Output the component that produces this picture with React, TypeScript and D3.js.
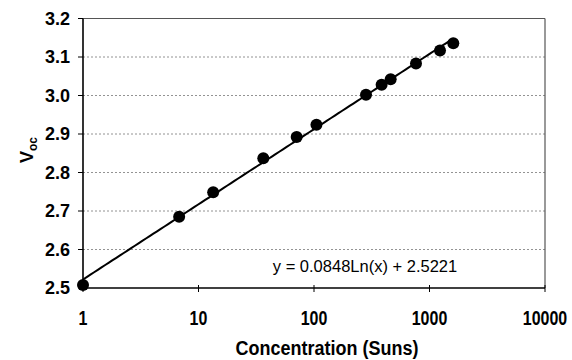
import React from "react";
import * as d3 from "d3";

// Concentration (suns) and open-circuit voltage
const concentration = [1, 6.8, 13.4, 36.4, 70.8, 105, 282, 385, 461, 764, 1233, 1607];
const voc = [2.508, 2.685, 2.749, 2.837, 2.892, 2.924, 3.002, 3.028, 3.042, 3.083, 3.117, 3.136];

const xTicks = [1, 10, 100, 1000, 10000];
const yTicks = [2.5, 2.6, 2.7, 2.8, 2.9, 3.0, 3.1, 3.2];

// Logarithmic fit coefficients
const fitSlope = 0.0848;
const fitIntercept = 2.5221;

const W = 572;
const H = 360;
const left = 83;
const right = 545;
const top = 18.5;
const bottom = 288;

export default function App() {
  const x = d3.scaleLog().domain([1, 10000]).range([left, right]);
  const y = d3.scaleLinear().domain([2.5, 3.2]).range([bottom, top]);

  const fitX = d3.range(0, 101).map((i) => Math.pow(10, (i / 100) * Math.log10(d3.max(concentration)!)));
  const fitLine = d3
    .line<number>()
    .x((d) => x(d))
    .y((d) => y(fitSlope * Math.log(d) + fitIntercept))(fitX);

  const font = "'Liberation Sans', Arial, sans-serif";

  return (
    <svg
      width={W}
      height={H}
      style={{ position: "absolute", left: 0, top: 0, background: "#fff" }}
      fontFamily={font}
    >
      {/* horizontal grid */}
      {yTicks.slice(1).map((t) => (
        <line
          key={"g" + t}
          x1={left}
          x2={right}
          y1={y(t)}
          y2={y(t)}
          stroke="#777"
          strokeWidth={0.8}
          strokeDasharray="2,2"
        />
      ))}
      {/* frame */}
      <line x1={left} x2={right} y1={top} y2={top} stroke="#555" strokeWidth={1.2} />
      <line x1={right} x2={right} y1={top} y2={bottom} stroke="#555" strokeWidth={1.2} />
      <line x1={left} x2={left} y1={top} y2={bottom} stroke="#000" strokeWidth={1.6} />
      <line x1={left} x2={right} y1={bottom} y2={bottom} stroke="#000" strokeWidth={1.6} />
      {/* y ticks */}
      {yTicks.map((t) => (
        <g key={"y" + t}>
          <line x1={left - 5} x2={left} y1={y(t)} y2={y(t)} stroke="#000" strokeWidth={1} />
          <text x={left - 13} y={y(t) + 6} textAnchor="end" fontSize={18} fontWeight="bold">
            {t.toFixed(1)}
          </text>
        </g>
      ))}
      {/* x ticks */}
      {xTicks.map((t) => (
        <g key={"x" + t}>
          <line x1={x(t)} x2={x(t)} y1={bottom - 3} y2={bottom + 4} stroke="#000" strokeWidth={1} />
          <text
            transform={`translate(${x(t)},${bottom + 37}) scale(1,1.3)`}
            textAnchor="middle"
            fontSize={16}
            fontWeight="bold"
          >
            {t}
          </text>
        </g>
      ))}
      {/* fit line */}
      <path d={fitLine ?? ""} fill="none" stroke="#000" strokeWidth={2} />
      {/* data points */}
      {concentration.map((c, i) => (
        <circle key={i} cx={x(c)} cy={y(voc[i])} r={6} fill="#000" />
      ))}
      {/* fit equation */}
      <text x={365} y={272} textAnchor="middle" fontSize={16.5}>
        y = 0.0848Ln(x) + 2.5221
      </text>
      {/* axis titles */}
      <text
        transform="translate(327,355) scale(1,1.12)"
        textAnchor="middle"
        fontSize={18}
        fontWeight="bold"
      >
        Concentration (Suns)
      </text>
      <text transform="translate(33,150) rotate(-90)" textAnchor="middle" fontSize={18} fontWeight="bold">
        V<tspan fontSize={12} dy={4}>oc</tspan>
      </text>
    </svg>
  );
}
